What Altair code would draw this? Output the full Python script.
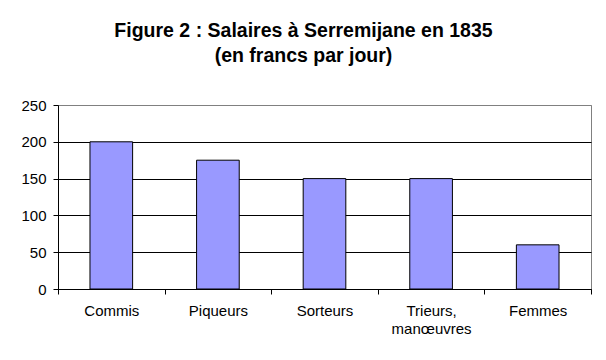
import altair as alt
import pandas as pd

categories = ["Commis", "Piqueurs", "Sorteurs", "Trieurs, manœuvres", "Femmes"]
salaires = [200, 175, 150, 150, 60]
y_ticks = [0, 50, 100, 150, 200, 250]
title_lines = ["Figure 2 : Salaires à Serremijane en 1835", "(en francs par jour)"]

df = pd.DataFrame({"cat": categories, "val": salaires})

FONT = "Liberation Sans"

label_expr = (
    "indexof(datum.label, ',') > 0 ? "
    "[slice(datum.label, 0, indexof(datum.label, ',') + 1), "
    "slice(datum.label, indexof(datum.label, ',') + 2)] : datum.label"
)

chart = (
    alt.Chart(df)
    .mark_bar(color="#9999FF", stroke="black", strokeWidth=1,
              width=alt.RelativeBandSize(0.4))
    .encode(
        x=alt.X("cat:N", sort=categories, title=None,
                scale=alt.Scale(paddingInner=0, paddingOuter=0),
                axis=alt.Axis(tickBand="extent", labelAngle=0, domainColor="black",
                              tickColor="black", tickSize=5, labelPadding=9,
                              labelFont=FONT, labelFontSize=15, labelColor="black",
                              labelLineHeight=18, labelExpr=label_expr, grid=False)),
        y=alt.Y("val:Q", title=None,
                scale=alt.Scale(domain=[0, 250], nice=False),
                axis=alt.Axis(values=y_ticks, domainColor="black", tickColor="black",
                              tickSize=5, labelPadding=7, labelFont=FONT,
                              labelFontSize=15, labelColor="black",
                              grid=True,
                              gridColor={"condition": {"test": "datum.value === 250", "value": "#808080"},
                                         "value": "black"},
                              gridOpacity=1)),
    )
    .properties(
        width=533,
        height=184,
        autosize=alt.AutoSizeParams(type="none"),
        padding={"left": 50, "top": 97, "right": 7, "bottom": 50},
        title=alt.TitleParams(text=title_lines, font=FONT, fontSize=19.5, fontWeight="bold",
                              color="black", anchor="middle", dx=-21, offset=32,
                              lineHeight=25),
    )
    .configure_view(stroke="#808080", strokeWidth=1)
)

chart.save("out.html", embed_options={"renderer": "svg", "actions": False})
